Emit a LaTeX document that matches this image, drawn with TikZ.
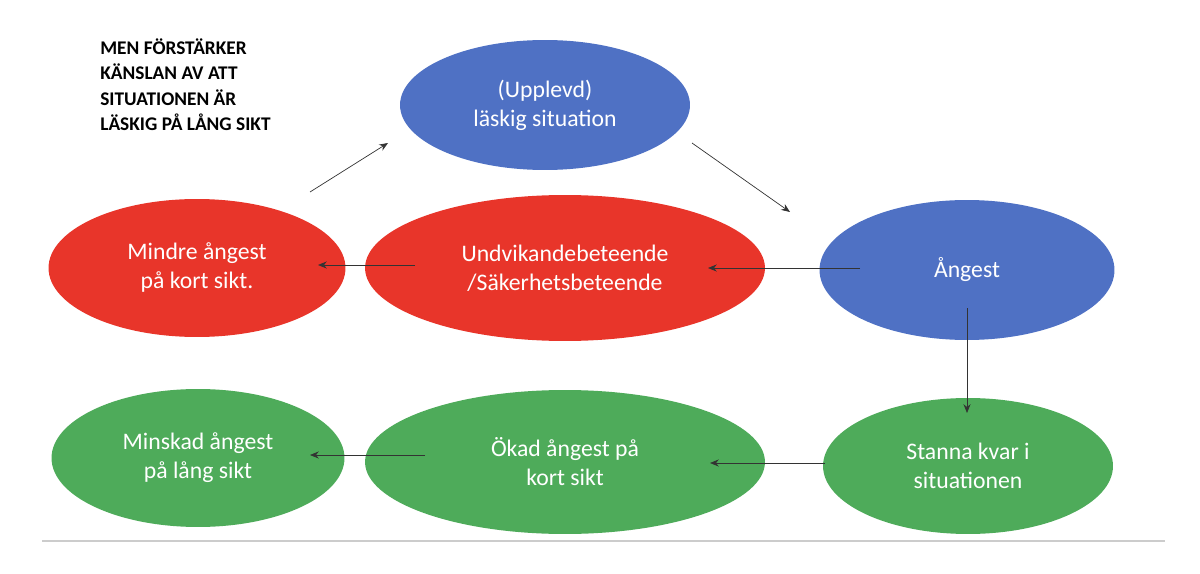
\documentclass[tikz,border=0pt]{standalone}
\usepackage{fontspec}
\setmainfont{Carlito}
\begin{document}
\begin{tikzpicture}[x=0.02cm,y=-0.02cm,
  el/.style={ellipse,draw=none,fill=#1,text=white,font=\fontsize{13.5}{16.5}\selectfont,align=center,inner sep=0pt},
  arr/.style={-{Stealth[length=5pt,width=4pt]},line width=0.4pt,black!80}]
\usetikzlibrary{shapes.geometric,arrows.meta}
\definecolor{bl}{HTML}{4F71C4}
\definecolor{rd}{HTML}{E8352A}
\definecolor{gr}{HTML}{4EAB5A}
\useasboundingbox (0,0) rectangle (1200,574);
\node[el=bl,minimum width=290\pgflinewidth*0+5.8cm,minimum height=2.6cm] (top) at (545,105) {(Upplevd)\\läskig situation};
\node[el=bl,minimum width=5.9cm,minimum height=2.8cm] (ang) at (967,270) {Ångest};
\node[el=rd,minimum width=8cm,minimum height=2.92cm] (und) at (565,268) {Undvikandebeteende\\/Säkerhetsbeteende};
\node[el=rd,minimum width=5.94cm,minimum height=2.76cm] (min) at (197,268) {Mindre ångest\\på kort sikt.};
\node[el=gr,minimum width=5.8cm,minimum height=2.72cm] (sta) at (968,466) {Stanna kvar i\\situationen};
\node[el=gr,minimum width=8cm,minimum height=2.88cm] (oka) at (565,462) {Ökad ångest på\\kort sikt};
\node[el=gr,minimum width=5.86cm,minimum height=2.76cm] (mis) at (198,458) {Minskad ångest\\på lång sikt};
\node[anchor=north west,align=left,font=\bfseries\fontsize{11}{14.5}\selectfont,inner sep=0pt] (head) at (100,38) {MEN FÖRSTÄRKER\\KÄNSLAN AV ATT\\SITUATIONEN ÄR\\LÄSKIG PÅ LÅNG SIKT};
\coordinate (a1) at (310,192); \coordinate (b1) at (388,143);
\coordinate (a2) at (692,143); \coordinate (b2) at (790,212);
\coordinate (a3) at (860,268); \coordinate (b3) at (708,268);
\coordinate (a4) at (415,265); \coordinate (b4) at (318,265);
\coordinate (a5) at (967,308); \coordinate (b5) at (967,413);
\coordinate (a6) at (825,463); \coordinate (b6) at (710,463);
\coordinate (a7) at (425,455); \coordinate (b7) at (310,455);
\foreach \i in {1,...,7} \draw[arr] (a\i) -- (b\i);
\coordinate (l1) at (42,541); \coordinate (l2) at (1165,541);
\draw[black!20,line width=0.6pt] (l1) -- (l2);
\end{tikzpicture}
\end{document}
